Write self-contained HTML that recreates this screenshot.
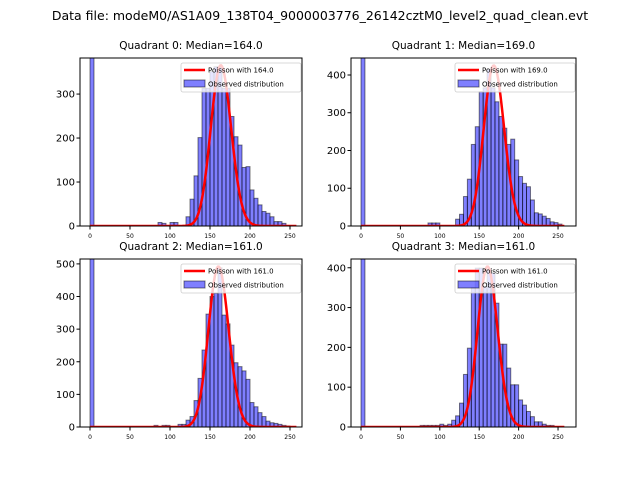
<!DOCTYPE html>
<html><head><meta charset="utf-8"><style>
body{margin:0;background:#fff;}
svg{display:block;font-family:"DejaVu Sans","Liberation Sans",sans-serif;}
</style></head><body>
<svg id="chart" width="640" height="480" xmlns="http://www.w3.org/2000/svg">
<text x="320" y="20" text-anchor="middle" font-size="12.5">Data file: modeM0/AS1A09_138T04_9000003776_26142cztM0_level2_quad_clean.evt</text>
</svg>
<script>
const binWidth = 5;
const medians = [164.0, 169.0, 161.0, 161.0];
const curveScales = [11730, 13850, 15650, 12820];
const bins0 = [0,85,90,100,105,120,125,130,135,140,145,150,155,160,165,170,175,180,185,190,195,200,205,210,215,220,225,230,235,240];
const counts0 = [600,8,6,8,8,21,61,114,201,313,313,351,362,362,313,313,249,203,184,133,135,82,63,48,33,29,21,10,10,6];
const bins1 = [0,85,90,95,120,125,130,135,140,145,150,155,160,165,170,175,180,185,190,195,200,205,210,215,220,225,230,235,240,245,250];
const counts1 = [600,8,8,8,18,31,78,124,216,263,356,366,415,366,329,290,259,216,230,175,131,113,104,69,35,32,26,20,11,9,5];
const bins2 = [0,80,90,95,110,115,120,125,130,135,140,145,150,155,160,165,170,175,180,185,190,195,200,205,210,215,220,225,230,235,240,245];
const counts2 = [700,5,5,5,8,8,21,32,81,149,236,346,400,410,488,343,316,251,197,185,172,146,75,62,44,32,18,13,11,8,5,3];
const bins3 = [0,75,80,85,90,95,100,105,110,115,120,125,130,135,140,145,150,155,160,165,170,175,180,185,190,195,200,205,210,215,220,225,230,235,240];
const counts3 = [600,4,4,4,4,4,7,4,7,17,28,60,132,198,350,399,399,353,395,387,311,208,208,148,106,106,68,55,39,26,13,13,7,4,4];
const yTicks0 = [0,100,200,300];
const yTicks1 = [0,100,200,300,400];
const yTicks2 = [0,100,200,300,400,500];
const yTicks3 = [0,100,200,300,400];
const xTicks = [0,50,100,150,200,250];

const panels = [
 {left:80,right:302,top:58,bottom:226,x0:-12.5,x1:265,y1:382,bins:bins0,counts:counts0,yt:yTicks0},
 {left:351,right:576,top:58,bottom:226,x0:-12.7,x1:272.8,y1:445,bins:bins1,counts:counts1,yt:yTicks1},
 {left:80,right:302,top:259,bottom:427,x0:-12.5,x1:265,y1:515,bins:bins2,counts:counts2,yt:yTicks2},
 {left:351,right:576,top:259,bottom:427,x0:-12.7,x1:272.8,y1:422,bins:bins3,counts:counts3,yt:yTicks3}
];
const NS="http://www.w3.org/2000/svg";
const svg=document.getElementById('chart');
function mk(tag,attrs,parent){const e=document.createElementNS(NS,tag);for(const k in attrs)e.setAttribute(k,attrs[k]);(parent||svg).appendChild(e);return e;}
function lgamma(n){let s=0;for(let i=2;i<=n;i++)s+=Math.log(i);return s;}
panels.forEach((p,i)=>{
  const X=v=>p.left+(v-p.x0)/(p.x1-p.x0)*(p.right-p.left);
  const Y=v=>p.bottom-v/p.y1*(p.bottom-p.top);
  const g=mk('g',{});
  
  
  const cp=mk('clipPath',{id:'c'+i},g);
  mk('rect',{x:p.left,y:p.top,width:p.right-p.left,height:p.bottom-p.top},cp);
  const pg=mk('g',{'clip-path':'url(#c'+i+')'},g);
  p.bins.forEach((b,j)=>{
    const r=mk('rect',{x:X(b),y:Y(p.counts[j]),width:X(b+binWidth)-X(b),height:p.bottom-Y(p.counts[j]),fill:'rgba(0,0,255,0.5)',stroke:'rgba(0,0,0,0.5)','stroke-width':1},pg);
    
    
  });
  const mu=medians[i];let d='';
  for(let k=0;k<=258;k++){const v=curveScales[i]*Math.exp(k*Math.log(mu)-mu-lgamma(k));d+=(k?'L':'M')+X(k).toFixed(2)+','+Y(v).toFixed(2);}
  const ln=mk('path',{d:d,fill:'none',stroke:'red','stroke-width':2.5},pg);
  
  
  mk('rect',{x:p.left,y:p.top,width:p.right-p.left,height:p.bottom-p.top,fill:'none',stroke:'#000','stroke-width':1},g);
  p.yt.forEach(t=>{const y=Y(t);mk('line',{x1:p.left-3.5,x2:p.left,y1:y,y2:y,stroke:'#000'},g);
    const tx=mk('text',{x:p.left-5,y:y+3.5,'text-anchor':'end','font-size':10},g);tx.textContent=t;
    });
  xTicks.forEach(t=>{const x=X(t);mk('line',{x1:x,x2:x,y1:p.bottom,y2:p.bottom+3.5,stroke:'#000'},g);
    const tx=mk('text',{x:x,y:p.bottom+12,'text-anchor':'middle','font-size':6},g);tx.textContent=t;
    });
  const title=mk('text',{x:(p.left+p.right)/2,y:p.top-9,'text-anchor':'middle','font-size':10.5},g);
  title.textContent='Quadrant '+i+': Median='+medians[i].toFixed(1);
  
  const lg=mk('g',{},g);
  
  const lx=p.right-121,ly=p.top+5;
  mk('rect',{x:lx,y:ly,width:120,height:29,rx:2,fill:'rgba(255,255,255,0.8)',stroke:'#ccc','stroke-width':0.8},lg);
  mk('line',{x1:lx+3,x2:lx+24,y1:ly+7,y2:ly+7,stroke:'red','stroke-width':2.5},lg);
  const t1=mk('text',{x:lx+27,y:ly+9.5,'font-size':7},lg);t1.textContent='Poisson with '+medians[i].toFixed(1);
  mk('rect',{x:lx+3,y:ly+17,width:21,height:7,fill:'rgba(0,0,255,0.5)',stroke:'rgba(0,0,0,0.5)'},lg);
  const t2=mk('text',{x:lx+27,y:ly+23.5,'font-size':7},lg);t2.textContent='Observed distribution';
});
</script>
</body></html>
